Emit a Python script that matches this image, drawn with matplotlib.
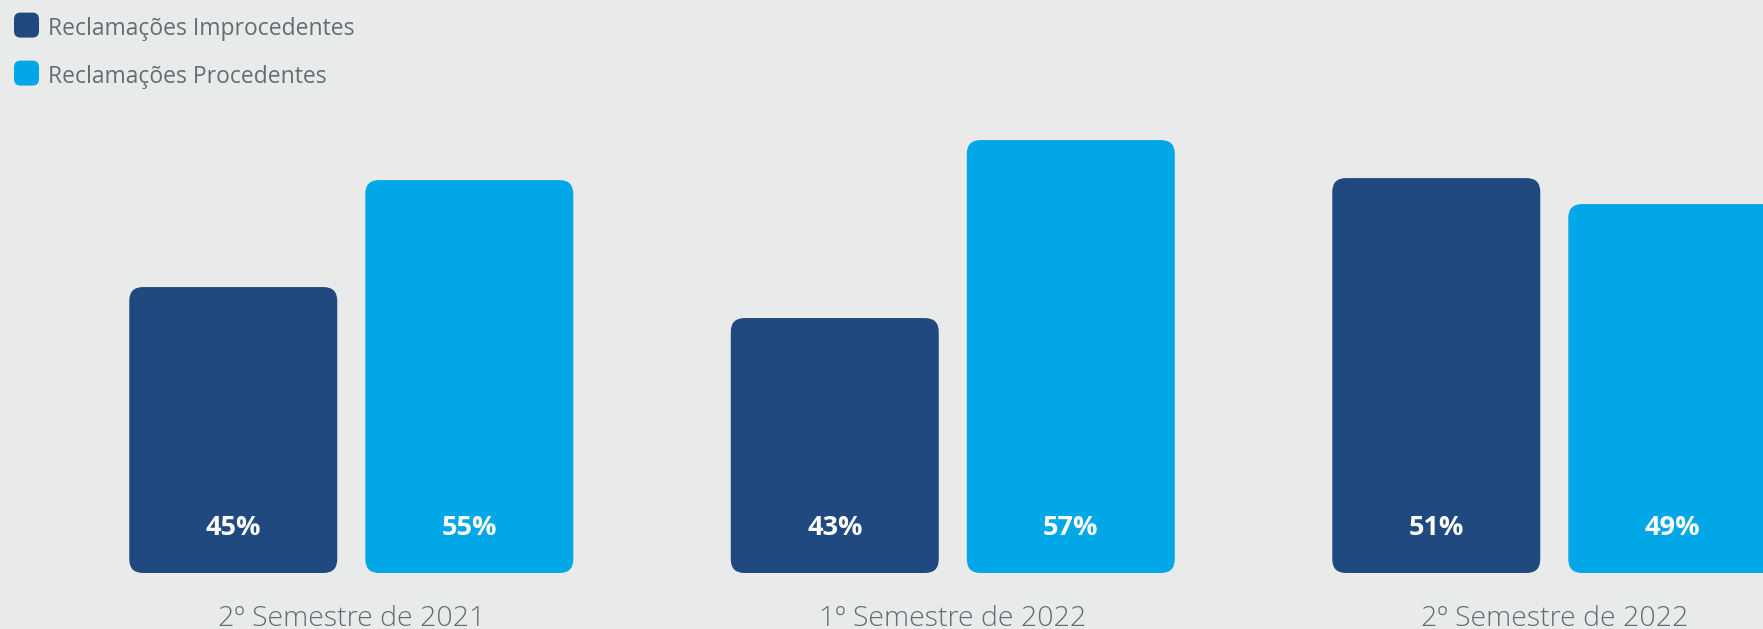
import numpy as np
import matplotlib.pyplot as plt
from matplotlib.patches import FancyBboxPatch

# data
periods = ['2º Semestre de 2021', '1º Semestre de 2022', '2º Semestre de 2022']
series = ['Reclamações Improcedentes', 'Reclamações Procedentes']
pct_improc = [45, 43, 51]
pct_proc = [55, 57, 49]
# drawn bar heights (not proportional to the labels in the source)
h_improc = [286, 255, 395]
h_proc = [393, 433, 369]

dark = '#204A7F'
light = '#02A7E8'
bg = '#E9EBEA'
txt = '#646C74'

plt.rcParams['font.family'] = ['Open Sans', 'DejaVu Sans']

fig = plt.figure(figsize=(17.63, 6.299), dpi=100, facecolor=bg)
ax = fig.add_axes([0, 0, 1, 1])
ax.set_facecolor(bg)
ax.set_xlim(-0.584, 2.347)
ax.set_ylim(-56, 574)
ax.axis('off')

x = np.arange(len(periods))
off = 0.1962
w = 0.3458
b1 = ax.bar(x - off, h_improc, w, color=dark)
b2 = ax.bar(x + off, h_proc, w, color=light)

# swap plain bars for rounded ones
for bars, col in [(b1, dark), (b2, light)]:
    for b in bars:
        bx, by = b.get_xy()
        bw, bh = b.get_width(), b.get_height()
        b.remove()
        ax.add_patch(FancyBboxPatch((bx, by), bw, bh,
                                    boxstyle='round,pad=0,rounding_size=0.023',
                                    mutation_aspect=601.5, fc=col, ec='none'))

for i in range(len(periods)):
    ax.text(x[i] - off, 46, f'{pct_improc[i]}%', ha='center', va='center',
            color='white', fontsize=19.5, fontweight='bold')
    ax.text(x[i] + off, 46, f'{pct_proc[i]}%', ha='center', va='center',
            color='white', fontsize=19.5, fontweight='bold')
    ax.text(x[i], -45, periods[i], ha='center', va='center',
            color=txt, fontsize=20.5, fontweight='light')

# legend, top left
for j, (name, col) in enumerate(zip(series, [dark, light])):
    yc = 1 - (26 + 48 * j) / 630
    fig.patches.append(FancyBboxPatch((14 / 1763, yc - 12.5 / 630), 25 / 1763, 25 / 630,
                                      boxstyle='round,pad=0,rounding_size=0.0037',
                                      mutation_aspect=1763 / 630,
                                      transform=fig.transFigure, fc=col, ec='none'))
    fig.text(48 / 1763, yc - 3 / 630, name, ha='left', va='center', color=txt, fontsize=16.5)

fig.savefig('out.png', dpi=100, facecolor=bg)
